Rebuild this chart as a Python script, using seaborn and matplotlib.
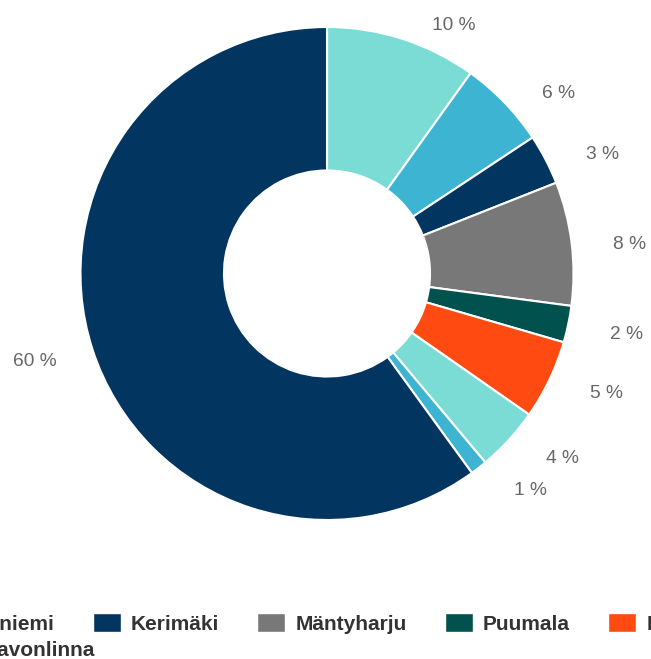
import numpy as np
import matplotlib
matplotlib.use("Agg")
import matplotlib.pyplot as plt
import matplotlib.patches as mpatches
import seaborn as sns

# Osuudet kunnittain (%), luettu kuvasta
categories = ["Hirvensalmi", "Kangasniemi", "Kerimäki", "Mäntyharju", "Puumala",
              "Rantasalmi", "Savonlinna", "Sulkava", "Mikkeli"]
values = [9.9, 5.8, 3.3, 8.1, 2.4, 5.2, 4.2, 1.1, 60.0]
base_colors = ["#7BDCD5", "#3CB4D2", "#02355F", "#787878", "#01514F", "#FF4A12"]

sns.set_theme(style="white")
plt.rcParams['font.family'] = ['Liberation Sans', 'DejaVu Sans']

palette = sns.color_palette(base_colors, n_colors=len(values))

fig = plt.figure(figsize=(6.51, 6.59), dpi=100)
R_px = 246.5
a = 1.33
w_px = 2 * a * R_px
ax = fig.add_axes([(327 - w_px / 2) / 651, (385.5 - w_px / 2) / 659, w_px / 651, w_px / 659])

wedges, _ = ax.pie(values, colors=palette, startangle=90, counterclock=False, radius=1,
                   wedgeprops=dict(width=0.582, edgecolor='white', linewidth=1.5))
ax.set_xlim(-a, a)
ax.set_ylim(-a, a)
ax.set_aspect('equal')
ax.axis('off')

# Prosenttiarvot renkaan ulkopuolelle
total = sum(values)
cum = np.cumsum([0] + values[:-1]) / total
mids = (cum + np.array(values) / total / 2) * 2 * np.pi
for v, th in zip(values, mids):
    s, c = np.sin(th), np.cos(th)
    if s >= 0:
        x, ha = s * 1.07 + 0.10, 'left'
    else:
        x, ha = s * 1.07 - 0.08, 'right'
    y = c * 1.07 - (0.012 if c >= 0 else 0.026)
    if v / total < 0.02:
        y -= 0.012
    ax.text(x, y, f"{round(v / total * 100):.0f} %", ha=ha, va='center',
            fontsize=13.8, color='#666666')

# Selite
handles = [mpatches.Patch(facecolor=palette[i]) for i in range(1, 6)]
leg_kw = dict(frameon=False, prop={'weight': 'bold', 'size': 15}, labelcolor='#333333',
              handlelength=1.35, handleheight=1.0, handletextpad=0.48,
              columnspacing=1.83, borderpad=0, borderaxespad=0)
fig.legend(handles=handles, labels=categories[1:6], ncol=5, loc='center',
           bbox_to_anchor=(322 / 651, 35.5 / 659), **leg_kw)
fig.legend(handles=[mpatches.Patch(facecolor=palette[6])], labels=[categories[6]],
           loc='center left', bbox_to_anchor=(-55 / 651, 9.5 / 659), **leg_kw)

fig.savefig('out.png', dpi=100)
